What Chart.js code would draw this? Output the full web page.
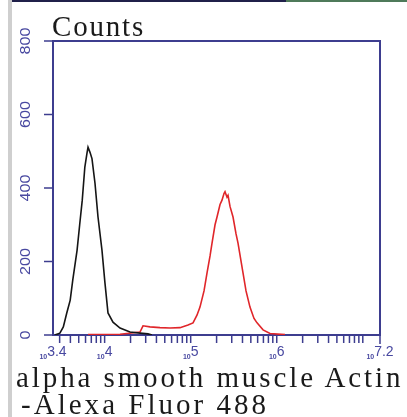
<!DOCTYPE html>
<html>
<head>
<meta charset="utf-8">
<script src="https://cdn.jsdelivr.net/npm/chart.js@4/dist/chart.umd.min.js"></script>
<style>
  html, body { margin: 0; padding: 0; background: #fff; }
  #wrap { position: relative; width: 407px; height: 417px; overflow: hidden; }
  #chart { position: absolute; left: 0; top: 0; }
  .txt {
    position: absolute;
    font-family: "Liberation Serif", "DejaVu Serif", serif;
    font-size: 29px;
    color: #1a1a1a;
    white-space: pre;
    line-height: 1;
  }
  #strip { position: absolute; left: 8px; top: 0; width: 4px; height: 417px; background: #cfcfcf; }
  #topline { position: absolute; left: 12px; top: 0; width: 274px; height: 2px; background: #20204a; }
  #topline2 { position: absolute; left: 286px; top: 0; width: 121px; height: 2px; background: #4f7a5a; }
</style>
</head>
<body>
<div id="wrap">
  <canvas id="chart" width="407" height="417"></canvas>
  <div id="strip"></div>
  <div id="topline"></div>
  <div id="topline2"></div>
  <div class="txt" style="left:52px; top:12px;">Counts</div>
  <div class="txt" style="left:16px; top:363px;">alpha smooth muscle Actin</div>
  <div class="txt" style="left:21px; top:390px;">-Alexa Fluor 488</div>
</div>
<script>
// fluorescence channel, in log10 units (x axis runs 10^3.4 .. 10^7.2)
const controlX = [3.42, 3.48, 3.52, 3.56, 3.60, 3.63, 3.68, 3.71, 3.74, 3.77, 3.795, 3.807, 3.83, 3.853, 3.888, 3.923, 3.969, 4.004, 4.039, 4.097, 4.179, 4.295, 4.411, 4.504, 4.55];
const controlY = [0, 5, 22, 60, 95, 150, 231, 300, 367, 457, 495, 511, 497, 480, 413, 321, 231, 141, 60, 35, 19, 8, 5, 3, 0];

const stainedX = [3.807, 4.179, 4.411, 4.446, 4.527, 4.643, 4.760, 4.876, 4.969, 5.027, 5.073, 5.108, 5.155, 5.190, 5.225, 5.248, 5.283, 5.306, 5.341, 5.364, 5.387, 5.399, 5.422, 5.434, 5.457, 5.492, 5.527, 5.550, 5.608, 5.643, 5.689, 5.736, 5.771, 5.841, 5.922, 6.096];
const stainedY = [1, 2, 8, 25, 22, 20, 19, 20, 27, 33, 54, 76, 120, 169, 215, 250, 300, 321, 355, 367, 385, 390, 375, 380, 350, 321, 275, 250, 169, 120, 76, 45, 33, 14, 4, 1];

const xTickValues = [3.4, 4, 5, 6, 7.2];
const xTickLabels = ["3.4", "4", "5", "6", "7.2"];
const yTickValues = [0, 200, 400, 600, 800];

const AXIS_COLOR = "#3d3d8f";

function toPoints(xs, ys) {
  const pts = [];
  for (let i = 0; i < xs.length; i++) {
    pts.push({ x: xs[i], y: ys[i] });
  }
  return pts;
}

// the original text is set in a fixed-pitch font, about 15.5px a character;
// spread the serif text out to that pitch
function fitPitch() {
  const els = document.querySelectorAll(".txt");
  els.forEach(el => {
    const n = el.textContent.length;
    const natural = el.getBoundingClientRect().width;
    const target = n * 15.5;
    el.style.letterSpacing = ((target - natural) / n).toFixed(2) + "px";
  });
}

// draws the box, the ticks and their labels from the chart's scales
const axesPlugin = {
  id: "histAxes",
  beforeDatasetsDraw(chart) {
    const ctx = chart.ctx;
    const area = chart.chartArea;
    const xs = chart.scales.x;
    const ys = chart.scales.y;

    ctx.save();
    ctx.strokeStyle = AXIS_COLOR;
    ctx.lineWidth = 2;
    ctx.strokeRect(area.left, area.top, area.right - area.left, area.bottom - area.top);

    // y ticks
    ctx.lineWidth = 1.5;
    for (let i = 0; i < yTickValues.length; i++) {
      const py = ys.getPixelForValue(yTickValues[i]);
      ctx.beginPath();
      ctx.moveTo(area.left - 9, py);
      ctx.lineTo(area.left, py);
      ctx.stroke();
      ctx.save();
      ctx.translate(26, py);
      ctx.rotate(-Math.PI / 2);
      ctx.fillStyle = "#4848a0";
      ctx.font = "14px 'Liberation Sans Narrow', 'Liberation Sans', sans-serif";
      ctx.textAlign = "center";
      ctx.textBaseline = "middle";
      ctx.scale(1.15, 1);
      ctx.fillText(String(yTickValues[i]), 0, 0);
      ctx.restore();
    }

    // x ticks, one for each 1..9 x 10^k inside the range
    for (let k = 3; k <= 7; k++) {
      for (let m = 1; m <= 9; m++) {
        const e = k + Math.log10(m);
        if (e < xs.min - 1e-6 || e > xs.max + 1e-6) continue;
        const px = xs.getPixelForValue(e);
        ctx.beginPath();
        ctx.moveTo(px, area.bottom);
        ctx.lineTo(px, area.bottom + 8);
        ctx.stroke();
      }
    }
    ctx.beginPath();
    ctx.moveTo(area.right, area.bottom);
    ctx.lineTo(area.right, area.bottom + 9);
    ctx.stroke();

    // x labels: small "10" with the exponent after it
    ctx.fillStyle = "#4848a0";
    ctx.textBaseline = "alphabetic";
    for (let i = 0; i < xTickValues.length; i++) {
      const px = xs.getPixelForValue(xTickValues[i]);
      ctx.font = "bold 7px 'Liberation Sans', sans-serif";
      const baseW = ctx.measureText("10").width;
      ctx.font = "14px 'Liberation Sans', sans-serif";
      const expW = ctx.measureText(xTickLabels[i]).width;
      const start = px - (baseW + expW) / 2;
      ctx.font = "bold 7px 'Liberation Sans', sans-serif";
      ctx.textAlign = "left";
      ctx.fillText("10", start, area.bottom + 24);
      ctx.font = "14px 'Liberation Sans', sans-serif";
      ctx.fillText(xTickLabels[i], start + baseW, area.bottom + 21);
    }
    ctx.restore();
  }
};

window.addEventListener("DOMContentLoaded", () => {
  fitPitch();
  const ctx = document.getElementById("chart").getContext("2d");
  new Chart(ctx, {
    type: "scatter",
    data: {
      datasets: [
        {
          label: "Control",
          data: toPoints(controlX, controlY),
          showLine: true,
          borderColor: "#151515",
          borderWidth: 1.6,
          pointRadius: 0,
          tension: 0
        },
        {
          label: "alpha smooth muscle Actin",
          data: toPoints(stainedX, stainedY),
          showLine: true,
          borderColor: "#e0262a",
          borderWidth: 1.6,
          pointRadius: 0,
          tension: 0
        }
      ]
    },
    options: {
      responsive: false,
      animation: false,
      layout: { padding: { left: 53, right: 27, top: 41, bottom: 82 } },
      plugins: { legend: { display: false }, tooltip: { enabled: false } },
      scales: {
        x: { type: "linear", min: 3.4, max: 7.2, display: false },
        y: { type: "linear", min: 0, max: 800, display: false }
      }
    },
    plugins: [axesPlugin]
  });
});
</script>
</body>
</html>
